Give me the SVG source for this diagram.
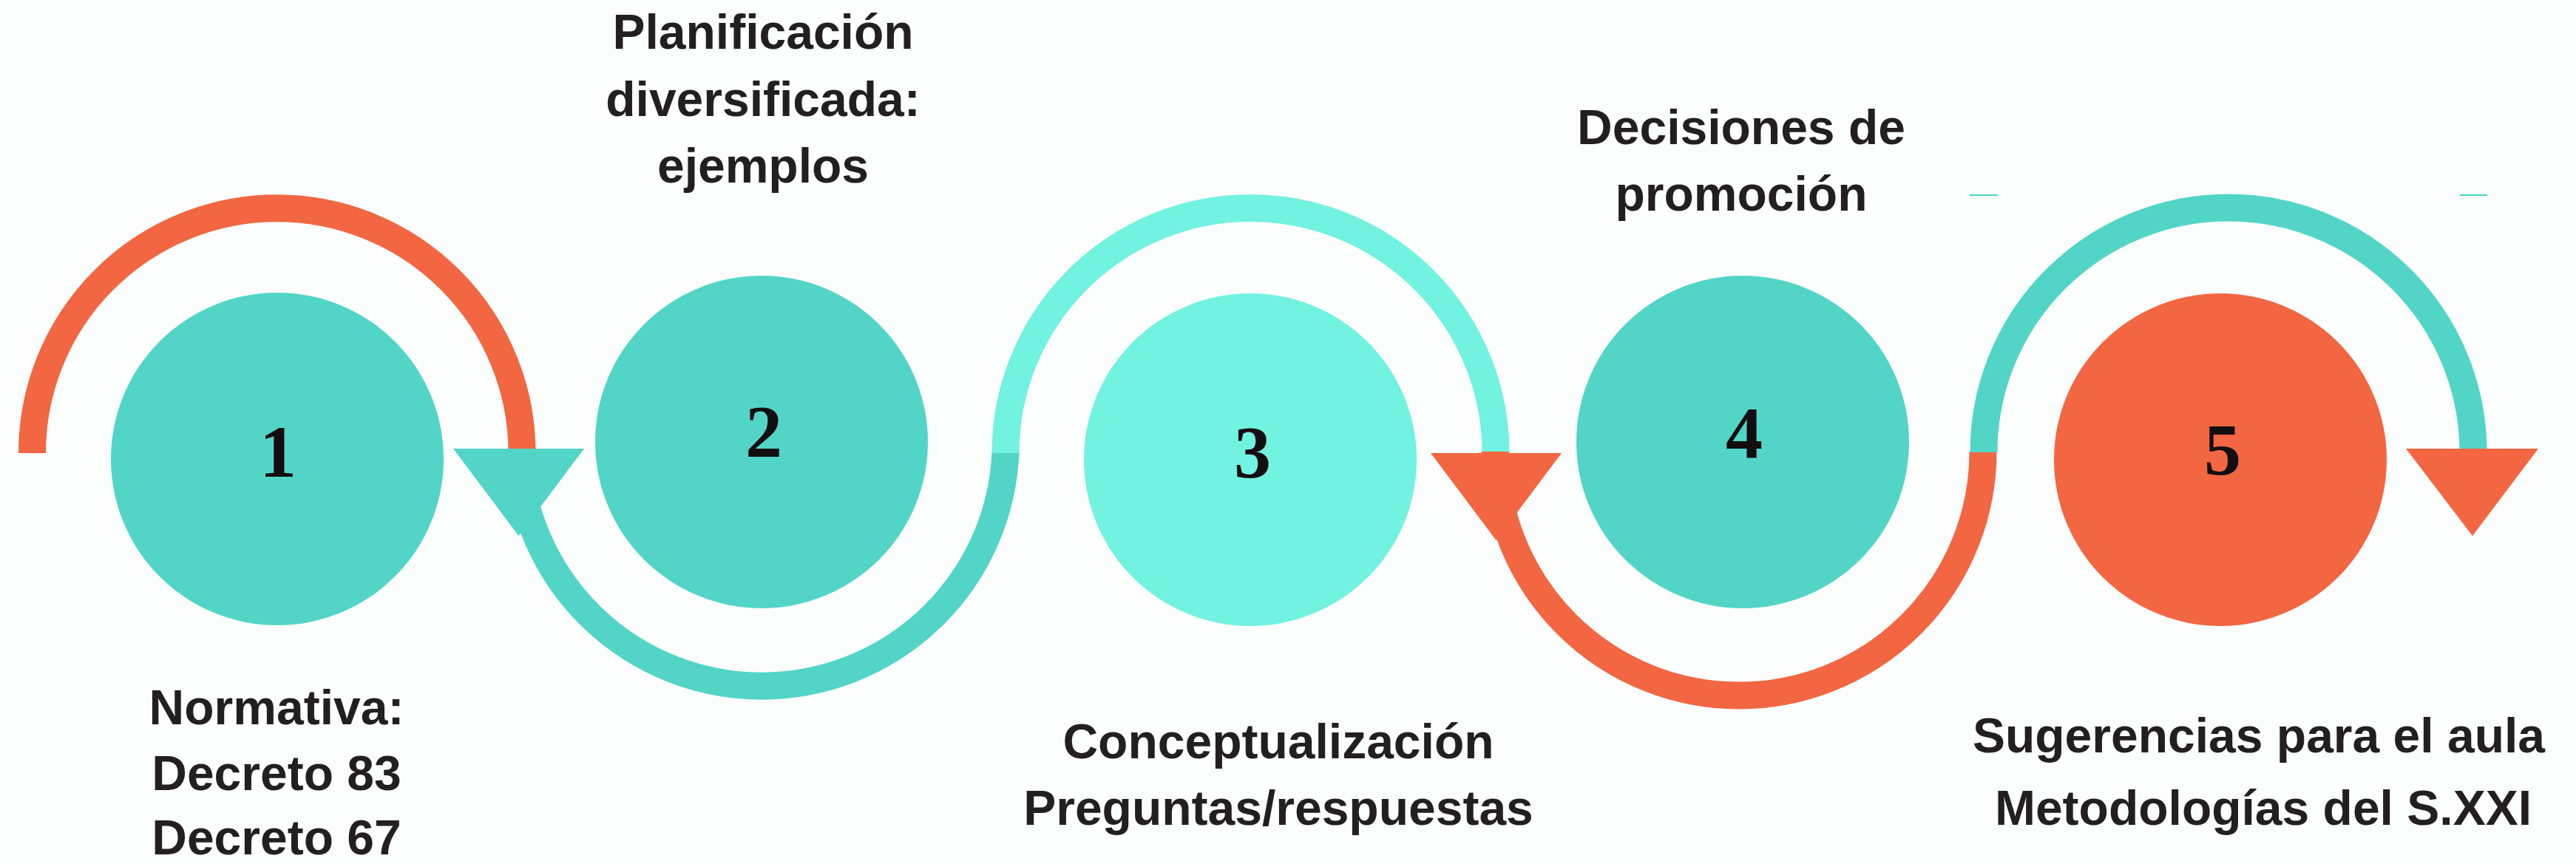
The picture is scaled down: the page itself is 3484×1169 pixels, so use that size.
<svg xmlns="http://www.w3.org/2000/svg" width="3484" height="1169" viewBox="0 0 3484 1169">
<style>
.lbl{font-family:"Liberation Sans",Arial,sans-serif;font-weight:bold;font-size:66px;fill:#231F20;text-anchor:middle}
.num{font-family:"Liberation Serif","Times New Roman",serif;font-weight:bold;font-size:100px;fill:#130E0F;text-anchor:middle}
.arc{fill:none;stroke-width:37;stroke-linecap:butt}
.teal{fill:#52D5C7}
.light{fill:#72F2E0}
.orange{fill:#F26641}
</style>
<rect width="3484" height="1169" fill="#FCFDFD"/>
<g id="connectors">
<path class="arc" stroke="#F26641" d="M43.5 613 A331 331 0 0 1 706 613"/>
<path class="arc" stroke="#52D5C7" d="M700.5 611 A330 330 0 0 0 1360 611"/>
<path class="arc" stroke="#72F2E0" d="M1360 613 A331.5 331.5 0 0 1 2023 613"/>
<path class="arc" stroke="#F26641" d="M2022 611 A330 330 0 0 0 2682 611"/>
<path class="arc" stroke="#52D5C7" d="M2683 612 A331 331 0 0 1 3345 612"/>
<polygon class="teal" points="613,607 790,607 701.5,725"/>
<polygon class="orange" points="1935,613 2112,613 2023.5,731"/>
<polygon class="orange" points="3254,607 3433,607 3344,725"/>
<line x1="2664" y1="264" x2="2702" y2="264" stroke="#40D9C4" stroke-width="2"/>
<line x1="3327" y1="264" x2="3364" y2="264" stroke="#40D9C4" stroke-width="2"/>
</g>
<g id="node1">
<circle class="teal" cx="375" cy="621" r="225"/>
<text class="num" x="376" y="645">1</text>
<text class="lbl" x="374" y="980">Normativa:</text>
<text class="lbl" x="374" y="1069">Decreto 83</text>
<text class="lbl" x="374" y="1156">Decreto 67</text>
</g>
<g id="node2">
<circle class="teal" cx="1030" cy="598" r="225"/>
<text class="num" x="1033" y="617">2</text>
<text class="lbl" x="1032" y="66">Planificación</text>
<text class="lbl" x="1032" y="157">diversificada:</text>
<text class="lbl" x="1032" y="247">ejemplos</text>
</g>
<g id="node3">
<circle class="light" cx="1691" cy="622" r="225"/>
<text class="num" x="1694" y="645">3</text>
<text class="lbl" x="1729" y="1026">Conceptualización</text>
<text class="lbl" x="1729" y="1116">Preguntas/respuestas</text>
</g>
<g id="node4">
<circle class="teal" cx="2357" cy="598" r="225"/>
<text class="num" x="2359" y="619">4</text>
<text class="lbl" x="2355" y="195">Decisiones de</text>
<text class="lbl" x="2355" y="285">promoción</text>
</g>
<g id="node5">
<circle class="orange" cx="3003" cy="622" r="225"/>
<text class="num" x="3006" y="642">5</text>
<text class="lbl" x="3055" y="1018">Sugerencias para el aula</text>
<text class="lbl" x="3061" y="1116">Metodologías del S.XXI</text>
</g>
</svg>
